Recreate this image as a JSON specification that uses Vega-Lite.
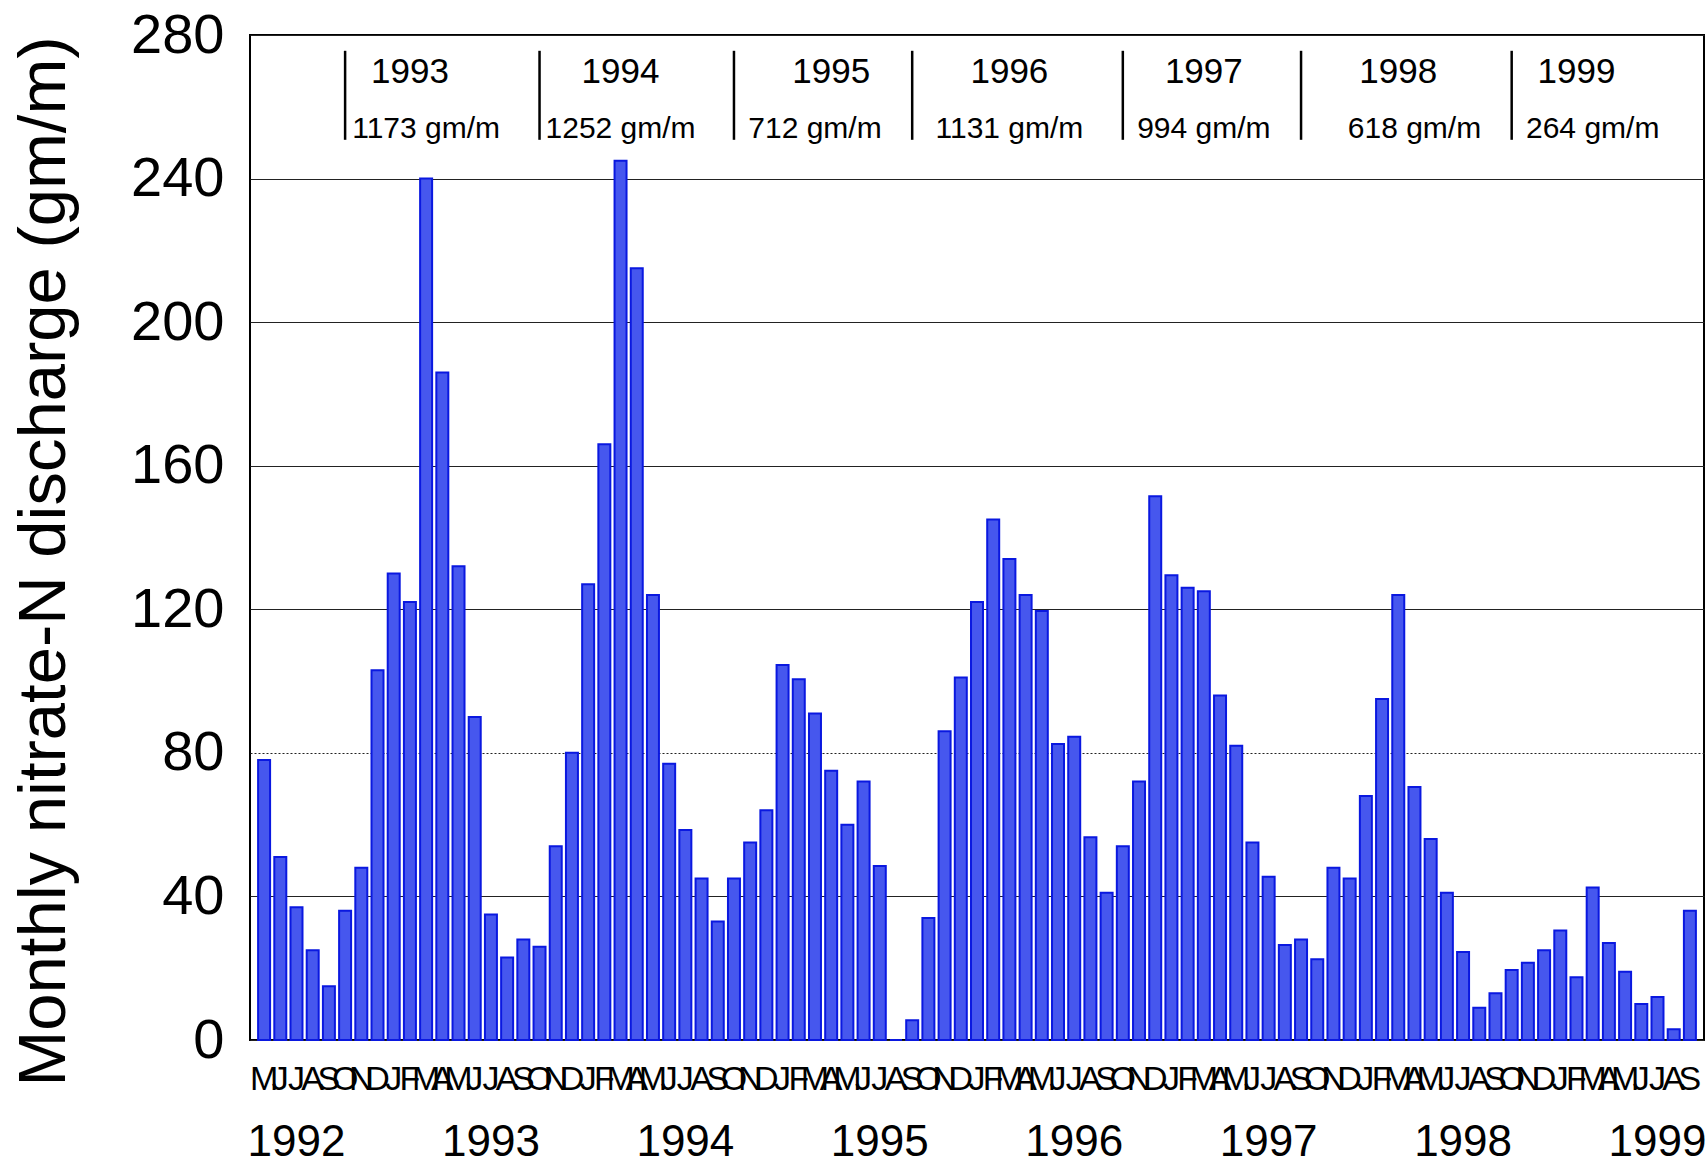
{
  "$schema": "https://vega.github.io/schema/vega-lite/v6.json",
  "width": 1454,
  "height": 1005,
  "autosize": {"type": "none"},
  "padding": {"left": 250, "top": 35, "right": 3, "bottom": 128},
  "background": "white",
  "config": {
    "view": {"stroke": "black", "strokeWidth": 2},
    "font": "Liberation Sans",
    "text": {"font": "Liberation Sans", "color": "black"}
  },
  "datasets": {
    "monthly": [
      {"ym": "1992-05", "v": 78}, {"ym": "1992-06", "v": 51}, {"ym": "1992-07", "v": 37}, {"ym": "1992-08", "v": 25},
      {"ym": "1992-09", "v": 15}, {"ym": "1992-10", "v": 36}, {"ym": "1992-11", "v": 48}, {"ym": "1992-12", "v": 103},
      {"ym": "1993-01", "v": 130}, {"ym": "1993-02", "v": 122}, {"ym": "1993-03", "v": 240}, {"ym": "1993-04", "v": 186},
      {"ym": "1993-05", "v": 132}, {"ym": "1993-06", "v": 90}, {"ym": "1993-07", "v": 35}, {"ym": "1993-08", "v": 23},
      {"ym": "1993-09", "v": 28}, {"ym": "1993-10", "v": 26}, {"ym": "1993-11", "v": 54}, {"ym": "1993-12", "v": 80},
      {"ym": "1994-01", "v": 127}, {"ym": "1994-02", "v": 166}, {"ym": "1994-03", "v": 245}, {"ym": "1994-04", "v": 215},
      {"ym": "1994-05", "v": 124}, {"ym": "1994-06", "v": 77}, {"ym": "1994-07", "v": 58.5}, {"ym": "1994-08", "v": 45},
      {"ym": "1994-09", "v": 33}, {"ym": "1994-10", "v": 45}, {"ym": "1994-11", "v": 55}, {"ym": "1994-12", "v": 64},
      {"ym": "1995-01", "v": 104.5}, {"ym": "1995-02", "v": 100.5}, {"ym": "1995-03", "v": 91}, {"ym": "1995-04", "v": 75},
      {"ym": "1995-05", "v": 60}, {"ym": "1995-06", "v": 72}, {"ym": "1995-07", "v": 48.5}, {"ym": "1995-08", "v": 0},
      {"ym": "1995-09", "v": 5.5}, {"ym": "1995-10", "v": 34}, {"ym": "1995-11", "v": 86}, {"ym": "1995-12", "v": 101},
      {"ym": "1996-01", "v": 122}, {"ym": "1996-02", "v": 145}, {"ym": "1996-03", "v": 134}, {"ym": "1996-04", "v": 124},
      {"ym": "1996-05", "v": 119.5}, {"ym": "1996-06", "v": 82.5}, {"ym": "1996-07", "v": 84.5}, {"ym": "1996-08", "v": 56.5},
      {"ym": "1996-09", "v": 41}, {"ym": "1996-10", "v": 54}, {"ym": "1996-11", "v": 72}, {"ym": "1996-12", "v": 151.5},
      {"ym": "1997-01", "v": 129.5}, {"ym": "1997-02", "v": 126}, {"ym": "1997-03", "v": 125}, {"ym": "1997-04", "v": 96},
      {"ym": "1997-05", "v": 82}, {"ym": "1997-06", "v": 55}, {"ym": "1997-07", "v": 45.5}, {"ym": "1997-08", "v": 26.5},
      {"ym": "1997-09", "v": 28}, {"ym": "1997-10", "v": 22.5}, {"ym": "1997-11", "v": 48}, {"ym": "1997-12", "v": 45},
      {"ym": "1998-01", "v": 68}, {"ym": "1998-02", "v": 95}, {"ym": "1998-03", "v": 124}, {"ym": "1998-04", "v": 70.5},
      {"ym": "1998-05", "v": 56}, {"ym": "1998-06", "v": 41}, {"ym": "1998-07", "v": 24.5}, {"ym": "1998-08", "v": 9},
      {"ym": "1998-09", "v": 13}, {"ym": "1998-10", "v": 19.5}, {"ym": "1998-11", "v": 21.5}, {"ym": "1998-12", "v": 25},
      {"ym": "1999-01", "v": 30.5}, {"ym": "1999-02", "v": 17.5}, {"ym": "1999-03", "v": 42.5}, {"ym": "1999-04", "v": 27},
      {"ym": "1999-05", "v": 19}, {"ym": "1999-06", "v": 10}, {"ym": "1999-07", "v": 12}, {"ym": "1999-08", "v": 3},
      {"ym": "1999-09", "v": 36}
    ],
    "wateryears": [
      {"wy": "1993", "total": "1173 gm/m", "yearAt": "1993-02", "sumAt": "1993-03", "sepAt": "1992-10"},
      {"wy": "1994", "total": "1252 gm/m", "yearAt": "1994-03", "sumAt": "1994-03", "sepAt": "1993-10"},
      {"wy": "1995", "total": "712 gm/m", "yearAt": "1995-04", "sumAt": "1995-03", "sepAt": "1994-10"},
      {"wy": "1996", "total": "1131 gm/m", "yearAt": "1996-03", "sumAt": "1996-03", "sepAt": "1995-09"},
      {"wy": "1997", "total": "994 gm/m", "yearAt": "1997-03", "sumAt": "1997-03", "sepAt": "1996-10"},
      {"wy": "1998", "total": "618 gm/m", "yearAt": "1998-03", "sumAt": "1998-04", "sepAt": "1997-09"},
      {"wy": "1999", "total": "264 gm/m", "yearAt": "1999-02", "sumAt": "1999-03", "sepAt": "1998-10"}
    ]
  },
  "layer": [
    {
      "data": {"name": "monthly"},
      "mark": {"type": "bar", "fill": "#4657ee", "stroke": "#0a18e0", "strokeWidth": 2},
      "encoding": {
        "x": {
          "field": "ym", "type": "ordinal",
          "scale": {"paddingInner": 0.26, "paddingOuter": 0.5},
          "axis": {
            "orient": "bottom", "title": null, "domain": false, "ticks": false, "grid": false,
            "labelAngle": 0, "labelOverlap": false, "labelBound": false, "labelFlush": false,
            "labelFont": "Liberation Sans", "labelFontSize": 34, "labelColor": "black",
            "labelPadding": 22,
            "labelExpr": "substring('JFMAMJJASOND', toNumber(substring(datum.value,5,7))-1, toNumber(substring(datum.value,5,7)))"
          }
        },
        "y": {
          "field": "v", "type": "quantitative",
          "scale": {"domain": [0, 280], "nice": false, "zero": true},
          "axis": {
            "values": [0, 40, 80, 120, 160, 200, 240, 280],
            "domain": false, "ticks": false,
            "grid": true, "gridColor": "#222222", "gridWidth": 1,
            "gridDash": {"condition": {"test": "datum.value === 80", "value": [2, 2]}, "value": []},
            "labelFont": "Liberation Sans", "labelFontSize": 56, "labelColor": "black", "labelPadding": 26,
            "labelBound": false, "labelOverlap": false,
            "title": "Monthly nitrate-N discharge (gm/m)",
            "titleFont": "Liberation Sans", "titleFontSize": 67, "titleFontWeight": "normal", "titleColor": "black",
            "titleX": -206, "titleY": 526, "titleAlign": "center", "titleBaseline": "middle", "titleAngle": -90
          }
        }
      }
    },
    {
      "data": {"name": "wateryears"},
      "mark": {"type": "rule", "color": "black", "strokeWidth": 2.5},
      "encoding": {
        "x": {"field": "sepAt", "type": "ordinal", "axis": null},
        "y": {"datum": 250.8, "type": "quantitative"},
        "y2": {"datum": 275.6}
      }
    },
    {
      "data": {"name": "wateryears"},
      "mark": {"type": "text", "fontSize": 35, "baseline": "alphabetic", "align": "center"},
      "encoding": {
        "x": {
          "field": "yearAt", "type": "ordinal",
          "axis": {
            "orient": "bottom", "title": null, "domain": false, "ticks": false, "grid": false,
            "labelAngle": 0, "labelOverlap": false, "labelBound": false, "labelFlush": false,
            "labelFont": "Liberation Sans", "labelFontSize": 44, "labelColor": "black",
            "labelPadding": 0, "offset": 80,
            "labelExpr": "substring(datum.value,5,7) == '07' ? substring(datum.value,0,4) : ''"
          }
        },
        "y": {"datum": 266.6, "type": "quantitative"},
        "text": {"field": "wy"}
      }
    },
    {
      "data": {"name": "wateryears"},
      "mark": {"type": "text", "fontSize": 30, "baseline": "alphabetic", "align": "center"},
      "encoding": {
        "x": {"field": "sumAt", "type": "ordinal", "axis": null},
        "y": {"datum": 251.3, "type": "quantitative"},
        "text": {"field": "total"}
      }
    }
  ],
  "resolve": {"axis": {"x": "independent"}}
}
